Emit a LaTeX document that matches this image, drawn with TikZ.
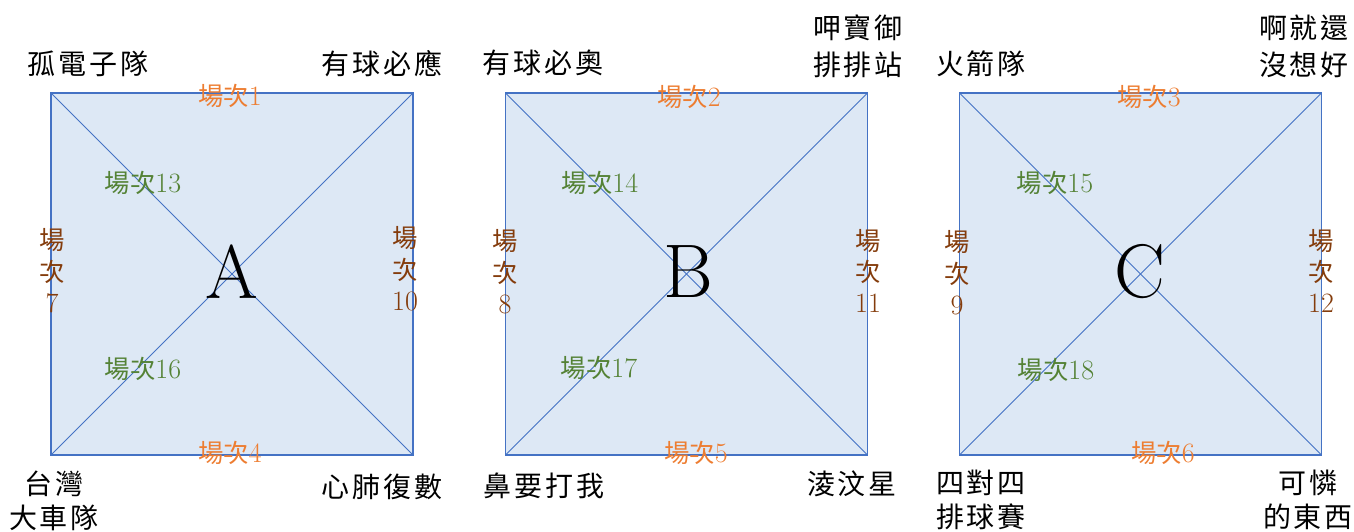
\documentclass[tikz,border=0pt]{standalone}
\usepackage{fontspec}
\newfontfamily\cjk{Noto Sans CJK TC}
\newfontfamily\cjkteam[LetterSpace=10]{Noto Sans CJK TC}
\definecolor{sqfill}{HTML}{DDE8F5}
\definecolor{sqedge}{HTML}{4472C4}
\definecolor{mOrange}{HTML}{ED7D31}
\definecolor{mGreen}{HTML}{548235}
\definecolor{mBrown}{HTML}{843C0C}
\tikzset{
  sq/.style={draw=sqedge, fill=sqfill, line width=1.1pt, minimum width=271.5pt, minimum height=271.5pt, inner sep=0, outer sep=0},
  diag/.style={draw=sqedge, line width=0.75pt},
  team/.style={font=\cjkteam\fontsize{21}{25}\selectfont, align=center, inner sep=0, text=black},
  teamtop/.style={team, font=\cjkteam\fontsize{21}{27.75}\selectfont},
  mo/.style={font=\fontsize{21}{23}\selectfont, text=mOrange, inner sep=0},
  mg/.style={font=\fontsize{21}{23}\selectfont, text=mGreen, inner sep=0},
  ms/.style={font=\fontsize{21}{23.5}\selectfont, text=mBrown, align=center, inner sep=0},
  big/.style={font=\fontsize{57}{60}\selectfont, inner sep=0},
}
\newcommand{\cc}{{\cjk\fontsize{19}{23}\selectfont 場次}}
\newcommand{\vcc}[1]{{\cjk\fontsize{19}{23.5}\selectfont 場}\\{\cjk\fontsize{19}{23.5}\selectfont 次}\\#1}
\begin{document}
\begin{tikzpicture}[x=0.75pt,y=-0.75pt]
\useasboundingbox (0,0) rectangle (1354,532);
% squares
\node[sq] (sA) at (232,274) {};
\node[sq] (sB) at (686.5,274) {};
\node[sq] (sC) at (1140.5,274) {};
\foreach \s in {sA,sB,sC}{
  \draw[diag] (\s.north west) -- (\s.south east);
  \draw[diag] (\s.south west) -- (\s.north east);
}
% big letters
\node[big] (LA) at (232,272) {A};
\node[big] (LB) at (688,272) {B};
\node[big] (LC) at (1140,272) {C};
% team names A
\node[team] (tA1) at (88,64) {孤電子隊};
\node[team] (tA2) at (382,64) {有球必應};
\node[team] (tA3) at (54,501) {台灣\\大車隊};
\node[team] (tA4) at (382,487) {心肺復數};
% team names B
\node[team] (tB1) at (543,63) {有球必奧};
\node[teamtop] (tB2) at (858,46.5) {呷寶御\\排排站};
\node[team] (tB3) at (544,486) {鼻要打我};
\node[team] (tB4) at (852,484) {淩汶星};
% team names C
\node[team] (tC1) at (981,64) {火箭隊};
\node[teamtop] (tC2) at (1304,46.5) {啊就還\\沒想好};
\node[team] (tC3) at (981,500) {四對四\\排球賽};
\node[team] (tC4) at (1308,500) {可憐\\的東西};
% matches orange
\node[mo] (m1) at (230,96) {\cc1};
\node[mo] (m4) at (230,453) {\cc4};
\node[mo] (m2) at (689,97) {\cc2};
\node[mo] (m5) at (696,453) {\cc5};
\node[mo] (m3) at (1149,97) {\cc3};
\node[mo] (m6) at (1163,453) {\cc6};
% matches green
\node[mg] (m13) at (143,183) {\cc13};
\node[mg] (m16) at (143,369) {\cc16};
\node[mg] (m14) at (600,183) {\cc14};
\node[mg] (m17) at (599,368) {\cc17};
\node[mg] (m15) at (1055,183) {\cc15};
\node[mg] (m18) at (1056,370) {\cc18};
% side matches
\node[ms] (m7) at (52,271) {\vcc{7}};
\node[ms] (m10) at (405,269) {\vcc{10}};
\node[ms] (m8) at (505,272) {\vcc{8}};
\node[ms] (m11) at (868,271) {\vcc{11}};
\node[ms] (m9) at (957,273) {\vcc{9}};
\node[ms] (m12) at (1321,271) {\vcc{12}};
\end{tikzpicture}
\end{document}
